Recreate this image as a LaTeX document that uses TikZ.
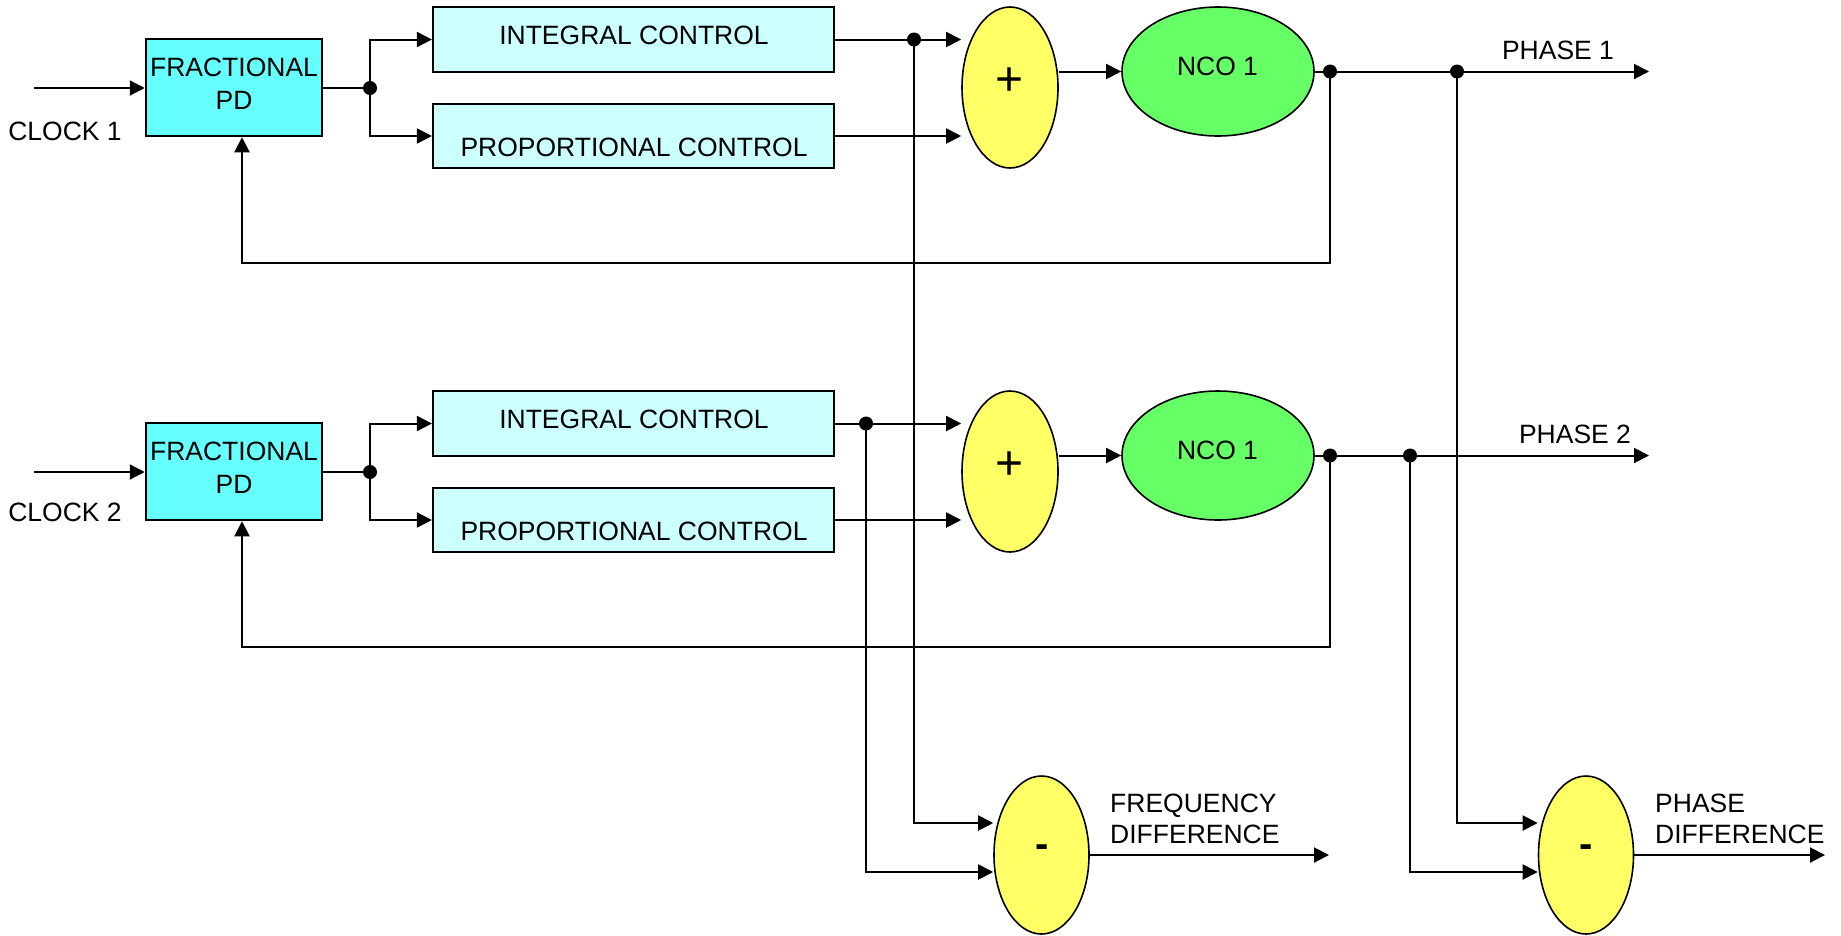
\documentclass[tikz,border=0pt]{standalone}
\usepackage{fontspec}
\setmainfont{Liberation Sans}
\usetikzlibrary{arrows.meta,shapes.geometric,calc}

\definecolor{pdcyan}{HTML}{66FFFF}
\definecolor{ctrlcyan}{HTML}{CCFFFF}
\definecolor{sumyellow}{HTML}{FFFF66}
\definecolor{ncogreen}{HTML}{66FF66}

\begin{document}
\begin{tikzpicture}[x=1pt,y=-1pt,
  every node/.style={font=\fontsize{26.5}{33}\selectfont, inner sep=0pt},
  conn/.style={line width=2pt},
  arr/.style={conn,-{Triangle[length=15pt,width=15pt]}},
  pdbox/.style={draw,line width=2.5pt,fill=pdcyan,minimum width=176pt,minimum height=97pt},
  ctrlbox/.style={draw,line width=2.2pt,fill=ctrlcyan,minimum width=401pt,minimum height=65pt},
  adder/.style={ellipse,draw,line width=1.6pt,fill=sumyellow,minimum width=96pt,minimum height=161pt},
  nco/.style={ellipse,draw,line width=1.6pt,fill=ncogreen,minimum width=192pt,minimum height=129pt},
  subtr/.style={ellipse,draw,line width=1.6pt,fill=sumyellow,minimum width=95pt,minimum height=158pt},
  opsign/.style={font=\fontsize{48}{48}\selectfont},
  minussign/.style={font=\fontsize{40}{40}\selectfont\bfseries},
]
\fill[white] (0,0) rectangle (1841,935);
\useasboundingbox (0,0) rectangle (1841,935);

% two identical PLL loops, one per clock
\foreach \row/\dy/\ix/\px/\phx/\cy in {1/0/914/1457/1558/131, 2/384/866/1410/1575/512}{
  \node[pdbox] (fpd\row) at (234, {87.5+\dy}) {};
  \node[align=center] (fpdtxt\row) at (234, {83.5+\dy}) {FRACTIONAL\\PD};
  \node[ctrlbox] (int\row) at (633.5, {39.5+\dy}) {};
  \node (inttxt\row) at (634, {35+\dy}) {INTEGRAL CONTROL};
  \node[ctrlbox,minimum height=64pt] (prop\row) at (633.5, {136+\dy}) {};
  \node (proptxt\row) at (634, {147+\dy}) {PROPORTIONAL CONTROL};
  \node[adder] (sum\row) at (1010, {87.5+\dy}) {};
  \node[opsign] (plus\row) at (1010, {82+\dy}) {+};
  \node[nco] (nco\row) at (1218, {71.5+\dy}) {};
  \node (ncotxt\row) at (1217.5, {66.5+\dy}) {NCO 1};
  \node (clk\row) at (65, \cy) {CLOCK \row};
  \node (ph\row) at (\phx, {50+\dy}) {PHASE \row};

  \coordinate (in\row) at (34, {88+\dy});
  \coordinate (split\row) at (370, {88+\dy});
  \coordinate (tapI\row) at (\ix, {39.5+\dy});
  \coordinate (tapN\row) at (1330, {71.5+\dy});
  \coordinate (tapP\row) at (\px, {71.5+\dy});
  \coordinate (out\row) at (1649, {71.5+\dy});
  \coordinate (fb\row) at (242, {263+\dy});

  \draw[arr] (in\row) -- (fpd\row.west |- in\row);
  \draw[conn] (fpd\row.east |- split\row) -- (split\row);
  \draw[arr] (split\row) |- (int\row.west);
  \draw[arr] (split\row) |- (prop\row.west);
  \draw[arr] (int\row.east) -- (int\row.east -| sum\row.west);
  \draw[arr] (prop\row.east) -- (prop\row.east -| sum\row.west);
  \draw[arr] (sum\row.east |- nco\row.west) -- (nco\row.west);
  \draw[arr] (nco\row.east) -- (out\row);
  \draw[arr] (tapN\row) |- (fb\row) -- (fb\row |- fpd\row.south);
}

% difference blocks
\node[subtr] (fdiff) at (1041.5, 855) {};
\node[minussign] (fminus) at (1042, 851) {-};
\node[subtr] (pdiff) at (1586, 855) {};
\node[minussign] (pminus) at (1586.5, 851) {-};
\coordinate (fout) at (1329, 855);
\coordinate (pout) at (1825, 855);

\draw[arr] (tapI1) |- ($(fdiff.west)+(0,-32)$);
\draw[arr] (tapI2) |- ($(fdiff.west)+(0,17)$);
\draw[arr] (tapP1) |- ($(pdiff.west)+(0,-32)$);
\draw[arr] (tapP2) |- ($(pdiff.west)+(0,17)$);
\draw[arr] (fdiff.east) -- (fout);
\draw[arr] (pdiff.east) -- (pout);

\node[anchor=base west] (fdtxt1) at (1110, 812) {FREQUENCY};
\node[anchor=base west] (fdtxt2) at (1110, 843) {DIFFERENCE};
\node[anchor=base west] (pdtxt1) at (1655, 812) {PHASE};
\node[anchor=base west] (pdtxt2) at (1655, 843) {DIFFERENCE};

% junction dots
\foreach \p in {split1,tapI1,tapN1,tapP1,split2,tapI2,tapN2,tapP2}
  \fill (\p) circle[radius=7pt];
\end{tikzpicture}
\end{document}
